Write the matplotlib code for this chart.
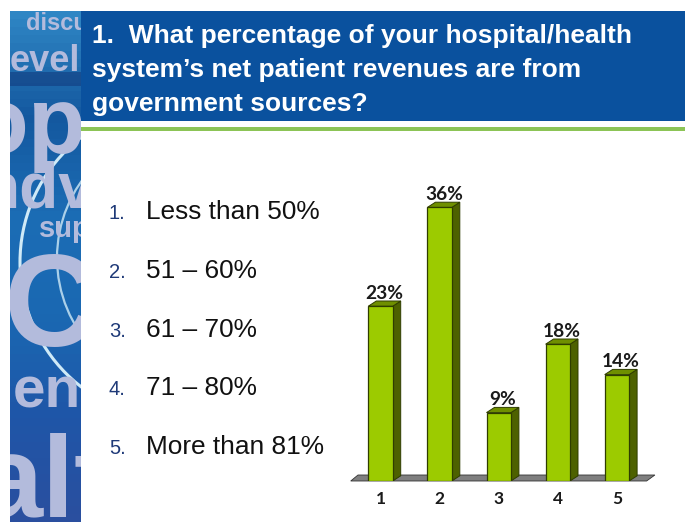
import matplotlib
matplotlib.use("Agg")
import matplotlib.pyplot as plt
from matplotlib.colors import LinearSegmentedColormap
from matplotlib.patches import Circle, Polygon, Rectangle
import numpy as np

W, H = 685, 522

title_lines = [
    "1.  What percentage of your hospital/health",
    "system\u2019s net patient revenues are from",
    "government sources?",
]
answers = ["Less than 50%", "51 \u2013 60%", "61 \u2013 70%", "71 \u2013 80%", "More than 81%"]
categories = [1, 2, 3, 4, 5]
percents = [23, 36, 9, 18, 14]

# words in the decorative strip: text, x, baseline y, font size
strip_words = [
    ("discu", 26, 30, 17),
    ("evel", 10, 71, 26),
    ("opp", -30, 153, 68),
    ("ndv", -19, 207, 46),
    ("sup", 39, 237, 21),
    ("C", 4, 346, 94),
    ("en", 13, 407, 42),
    ("alt", -21, 517, 83),
]

fig = plt.figure(figsize=(W / 100, H / 100), dpi=100, facecolor="white")


def px_axes(x0, y0, x1, y1):
    """Axes covering a pixel box, y counted from the top of the figure."""
    ax = fig.add_axes([x0 / W, 1 - y1 / H, (x1 - x0) / W, (y1 - y0) / H])
    ax.set_xlim(x0, x1)
    ax.set_ylim(y1, y0)
    ax.axis("off")
    return ax


# header band and rule
page = px_axes(0, 0, W, H)
page.add_patch(Rectangle((81, 11), W - 81, 110, color="#0a519e", lw=0))
page.add_patch(Rectangle((81, 127), W - 81, 3.5, color="#8cc456", lw=0))
for i, line in enumerate(title_lines):
    page.text(92, 43.5 + i * 33.8, line, color="white", fontsize=19, fontweight="bold",
              family="Liberation Sans", va="baseline")

# answer list
for i, answer in enumerate(answers):
    y = 219 + i * 58.8
    page.text(109, y, f"{i + 1}.", color="#1f3a78", fontsize=14.5, family="Liberation Sans", va="baseline")
    page.text(146.5, y, answer, color="#111111", fontsize=18.9, family="Liberation Sans", va="baseline")

# decorative strip
strip = px_axes(10, 11, 81, 522)
cmap = LinearSegmentedColormap.from_list("strip", ["#2f86c4", "#14589f", "#1c6db5", "#1a68b2", "#1f56a8", "#2a4f9f"])
strip.imshow(np.linspace(0, 1, 64).reshape(-1, 1), cmap=cmap, aspect="auto", extent=(10, 81, 522, 11))
strip.add_patch(Rectangle((10, 72), 71, 14, color="#123c80", alpha=0.6, lw=0))
for word, x, y, size in strip_words:
    strip.text(x, y, word, color="#b3bbdc", fontsize=size, fontweight="bold",
               family="Liberation Sans", va="baseline", clip_on=True)
strip.add_patch(Circle((178, 262), 158, fill=False, ec="#cfeaf7", lw=2.2))
strip.add_patch(Circle((190, 258), 133, fill=False, ec="#cfeaf7", lw=1.6, alpha=0.8))

# bar chart, scale set so that category spacing and percent height land on the slide grid
x_unit, y_unit = 59.1, 7.6
base_px, first_px = 481, 380.5
left, right, top = 345, 662, 170
ax = fig.add_axes([left / W, 1 - base_px / H, (right - left) / W, (base_px - top) / H])
ax.set_xlim(1 + (left - first_px) / x_unit, 1 + (right - first_px) / x_unit)
ax.set_ylim(0, (base_px - top) / y_unit)
ax.patch.set_alpha(0)
for side in ax.spines.values():
    side.set_visible(False)
ax.set_yticks([])
ax.set_xticks(categories)
ax.set_xticklabels(categories, fontsize=12.5, fontweight="bold", family="Lato", color="#1a1a1a")
ax.tick_params(axis="x", length=0, pad=7)

depth_x, depth_y = 8 / x_unit, 5.2 / y_unit
half = 12.2 / x_unit

# grey floor under the bars
ax.add_patch(Polygon([(1 - 29.8 / x_unit, 0), (5 + 29.7 / x_unit, 0),
                      (5 + 38 / x_unit, 6 / y_unit), (1 - 22.5 / x_unit, 6 / y_unit)],
                     closed=True, fc="#7f7f7f", ec="#333333", lw=0.6, zorder=1, clip_on=False))

for cat, pct in zip(categories, percents):
    ax.bar(cat, pct, width=2 * half, color="#9ccb00", edgecolor="#2f3d00", linewidth=0.9, zorder=3)
    x0, x1 = cat - half, cat + half
    # side and top faces
    ax.add_patch(Polygon([(x1, 0), (x1 + depth_x, depth_y), (x1 + depth_x, pct + depth_y), (x1, pct)],
                         closed=True, fc="#4d6100", ec="#2f3d00", lw=0.7, zorder=2))
    ax.add_patch(Polygon([(x0, pct), (x1, pct), (x1 + depth_x, pct + depth_y), (x0 + depth_x, pct + depth_y)],
                         closed=True, fc="#6f8f00", ec="#2f3d00", lw=0.7, zorder=2))
    ax.annotate(f"{pct}%", (cat, pct), xytext=(3, 3), textcoords="offset points", ha="center", va="bottom",
                fontsize=13.8, fontweight="bold", family="Lato", color="#1a1a1a", annotation_clip=False)

fig.savefig("out.png", dpi=100)
